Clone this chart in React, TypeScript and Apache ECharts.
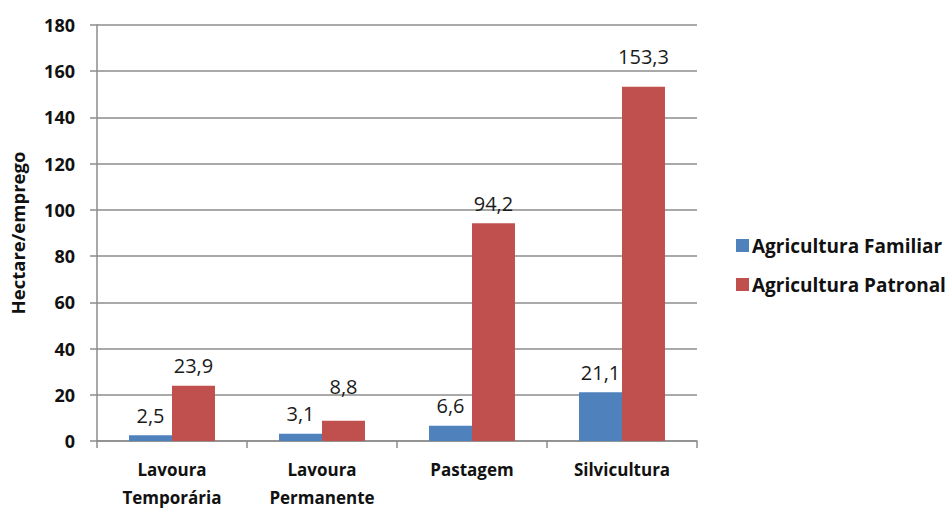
import React, { useEffect, useRef } from "react";
import * as echarts from "echarts";

const categories = ["Lavoura\nTemporária", "Lavoura\nPermanente", "Pastagem", "Silvicultura"];
const familiar = [2.5, 3.1, 6.6, 21.1];
const patronal = [23.9, 8.8, 94.2, 153.3];
const seriesNames = ["Agricultura Familiar", "Agricultura Patronal"];

const FONT = "'Open Sans', Lato, sans-serif";

export default function App() {
  const ref = useRef<HTMLDivElement>(null);
  useEffect(() => {
    if (!ref.current) return;
    const chart = echarts.init(ref.current, null, { renderer: "svg" });
    const label = {
      show: true,
      position: "top",
      distance: 10,
      fontFamily: FONT,
      fontSize: 20,
      color: "#1a1a1a",
      formatter: (p: any) => String(p.value).replace(".", ","),
    };
    const patronalData = patronal.map((v, i) =>
      i === 1 ? { value: v, label: { distance: 24 } } : i === 3 ? { value: v, label: { distance: 20 } } : v
    );
    chart.setOption({
      animation: false,
      textStyle: { fontFamily: FONT },
      grid: { left: 97, right: 252, top: 25, bottom: 68, containLabel: false, outerBoundsMode: "none" },
      legend: {
        orient: "vertical",
        left: 731,
        top: 231,
        itemGap: 20,
        itemWidth: 13,
        itemHeight: 13,
        icon: "rect",
        textStyle: { fontFamily: FONT, fontSize: 19, fontWeight: "bold", color: "#111", padding: [0, 0, 0, -2] },
        data: seriesNames,
      },
      xAxis: {
        type: "category",
        data: categories,
        axisLine: { lineStyle: { color: "#8c8c8c", width: 1.5 } },
        axisTick: { show: true, length: 7, lineStyle: { color: "#8c8c8c", width: 1.5 } },
        axisLabel: {
          fontFamily: FONT,
          fontSize: 17,
          fontWeight: "bold",
          color: "#111",
          margin: 14,
          lineHeight: 28,
          interval: 0,
        },
      },
      yAxis: {
        type: "value",
        min: 0,
        max: 180,
        interval: 20,
        name: "Hectare/emprego",
        nameLocation: "middle",
        nameGap: 70,
        nameRotate: 90,
        nameTextStyle: { fontFamily: FONT, fontSize: 18.5, fontWeight: "bold", color: "#111" },
        axisLine: { show: true, lineStyle: { color: "#8c8c8c", width: 1.5 } },
        axisTick: { show: true, length: 7, lineStyle: { color: "#8c8c8c", width: 1.5 } },
        splitLine: { lineStyle: { color: "#8c8c8c", width: 1.5 } },
        axisLabel: { fontFamily: FONT, fontSize: 18, fontWeight: "bold", color: "#111", margin: 22 },
      },
      series: [
        {
          name: seriesNames[0],
          type: "bar",
          data: familiar,
          barGap: "0%",
          barCategoryGap: "42.7%",
          itemStyle: { color: "#4F81BD" },
          label,
        },
        {
          name: seriesNames[1],
          type: "bar",
          data: patronalData,
          barGap: "0%",
          barCategoryGap: "42.7%",
          itemStyle: { color: "#C0504D" },
          label,
        },
      ],
    });
    return () => chart.dispose();
  }, []);
  return <div ref={ref} style={{ width: 949, height: 509, position: "absolute", left: 0, top: 0, background: "#fff" }} />;
}
